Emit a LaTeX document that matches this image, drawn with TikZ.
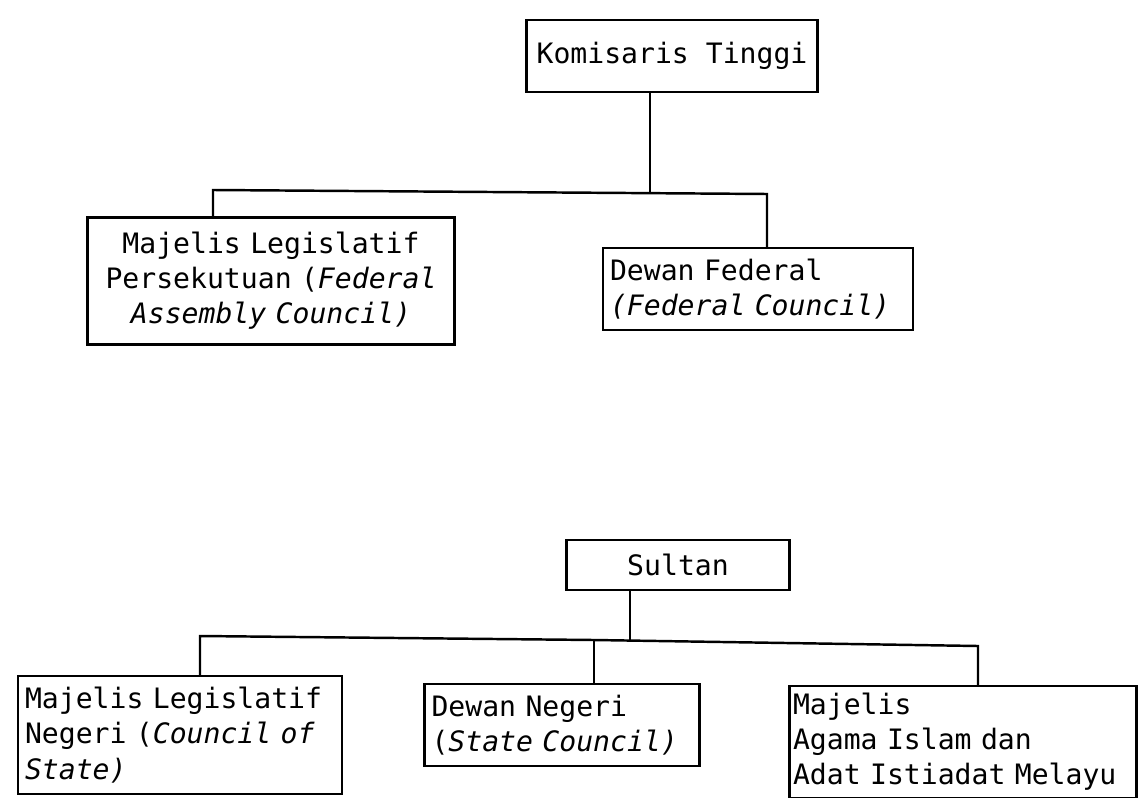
\documentclass[tikz,border=0pt]{standalone}
\usepackage{fontspec}
\setmonofont[WordSpace={1,0,0}]{DejaVu Sans Mono}
\usepackage{tikz}

\begin{document}
\begin{tikzpicture}[
            x=0.02cm, y=-0.02cm,
            line width=1.4pt,
            every node/.style={draw, rectangle, inner sep=4pt, font=\ttfamily\fontsize{16}{20}\selectfont},
            body/.style={align=left}
        ]
        \useasboundingbox (0,0) rectangle (1138,797);
        % Federal level
        \node[minimum width=5.82cm, minimum height=1.44cm] (kt) at (672,56) {Komisaris Tinggi};
        \node[align=center, text width=7.06cm, minimum height=2.54cm] (mlp) at (271,281)
            {Majelis Legislatif\\Persekutuan (\textit{Federal\\Assembly Council)}};
        \node[body, text width=5.92cm, minimum height=1.64cm] (df) at (758,289)
            {Dewan Federal\\\textit{(Federal Council)}};
        % State level
        \node[minimum width=4.46cm, minimum height=1cm] (sul) at (678,565) {Sultan};
        \node[body, text width=6.2cm, minimum height=2.36cm] (mln) at (180,735)
            {Majelis Legislatif\\Negeri (\textit{Council of\\State)}};
        \node[body, text width=5.22cm, minimum height=1.64cm] (dn) at (562,725)
            {Dewan Negeri\\(\textit{State Council)}};
        \node[body, inner xsep=2pt, text width=6.8cm, minimum height=2.1cm] (mai) at (963,742)
            {Majelis\\Agama Islam dan\\Adat Istiadat Melayu};
        % Connectors
        \coordinate (jA) at (650,192);
        \coordinate (barAl) at (213,190);
        \coordinate (barAr) at (767,194);
        \draw (kt.south -| jA) -- (jA);
        \draw (barAl |- mlp.north) -- (barAl) -- (barAr) -- (barAr |- df.north);
        \coordinate (jB) at (630,641);
        \coordinate (barBl) at (200,636);
        \coordinate (barBm) at (594,640);
        \coordinate (barBr) at (978,646);
        \draw (sul.south -| jB) -- (jB);
        \draw (barBl |- mln.north) -- (barBl) -- (barBm) -- (barBr) -- (barBr |- mai.north);
        \draw (barBm) -- (barBm |- dn.north);
    \end{tikzpicture}
\end{document}
